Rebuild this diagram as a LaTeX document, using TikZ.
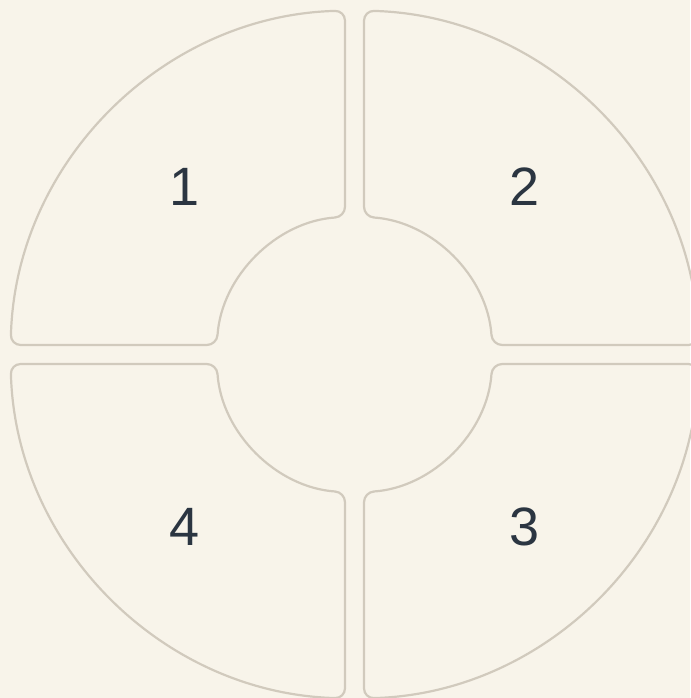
\documentclass[tikz,border=0pt]{standalone}
\usepackage{fontspec}
\setmainfont{Liberation Sans}
\definecolor{bgc}{HTML}{F8F4EA}
\definecolor{linec}{HTML}{D1CABD}
\definecolor{txtc}{HTML}{2B3541}
\begin{document}
\begin{tikzpicture}[x=1pt,y=1pt,
  seg/.style={draw=linec,line width=2.2pt,rounded corners=10pt},
  lbl/.style={text=txtc,font=\fontsize{54}{54}\selectfont,inner sep=0pt}]
\fill[bgc] (-354.5,-343.5) rectangle (335.5,354.5);
\useasboundingbox (-354.5,-343.5) rectangle (335.5,354.5);
\def\segpath{(-9.5,240) -- (-9.5,343.87) arc[start angle=91.583,end angle=178.417,radius=344] -- (-137.67,9.5) arc[start angle=176.053,end angle=93.947,radius=138] -- cycle}
\draw[seg] \segpath;
\draw[seg,rotate=-90] \segpath;
\draw[seg,rotate=180] \segpath;
\draw[seg,rotate=90] \segpath;
\node[lbl] (n1) at (-170,167.5) {1};
\node[lbl] (n2) at (170.5,167.5) {2};
\node[lbl] (n3) at (170.5,-172.5) {3};
\node[lbl] (n4) at (-170,-172.5) {4};
\end{tikzpicture}
\end{document}
